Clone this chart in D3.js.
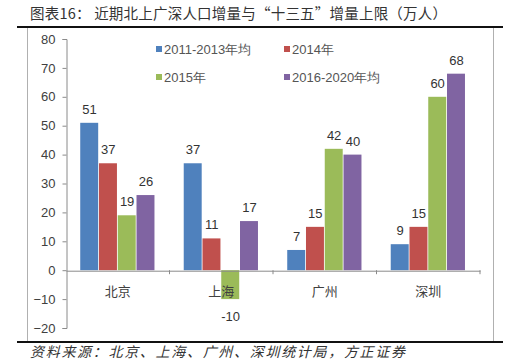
<!DOCTYPE html>
<html><head><meta charset="utf-8">
<script src="https://cdn.jsdelivr.net/npm/d3@7"></script>
<style>body{margin:0;background:#fff}svg{display:block}</style>
</head><body>
<script>
const categories = ["北京","上海","广州","深圳"];
const seriesNames = ["2011-2013年均","2014年","2015年","2016-2020年均"];
const avg2011_2013 = [51,37,7,9];
const y2014 = [37,11,15,15];
const y2015 = [19,-10,42,60];
const avg2016_2020 = [26,17,40,68];
const yTicks = [-20,-10,0,10,20,30,40,50,60,70,80];
const colors = ["#4F81BD","#C0504D","#9BBB59","#8064A2"];
const seriesValues = [avg2011_2013,y2014,y2015,avg2016_2020];

const W=516,H=361;
const svg=d3.select("body").append("svg").attr("width",W).attr("height",H);

// outer frame
svg.append("rect").attr("x",27.5).attr("y",27.5).attr("width",466).attr("height",314)
  .attr("fill","none").attr("stroke","#b0b0b0").attr("stroke-width",1);
svg.append("line").attr("x1",17).attr("x2",503).attr("y1",27).attr("y2",27).attr("stroke","#111").attr("stroke-width",2.2);
svg.append("line").attr("x1",17).attr("x2",503).attr("y1",342).attr("y2",342).attr("stroke","#111").attr("stroke-width",2.2);

svg.append("text").attr("x",30).attr("y",19).attr("font-family","Noto Sans CJK SC").attr("font-size",14.5)
  .attr("fill","#333").attr("textLength",417).attr("lengthAdjust","spacing")
  .text("图表16：  近期北上广深人口增量与“十三五”增量上限（万人）");
svg.append("text").attr("x",30).attr("y",357).attr("font-family","Noto Sans CJK SC").attr("font-size",14)
  .attr("font-style","italic").attr("fill","#333").attr("textLength",375).attr("lengthAdjust","spacing")
  .text("资料来源：北京、上海、广州、深圳统计局，方正证券");

const y=d3.scaleLinear().domain([-20,80]).range([328,39]);
const x0=d3.scaleBand().domain(categories).range([66,480]).paddingInner(0.275).paddingOuter(0.1375);
const x1=d3.scaleBand().domain(seriesNames).range([0,x0.bandwidth()]);

// y axis
const yAxis=svg.append("g").attr("transform","translate(66.5,0)")
  .call(d3.axisLeft(y).tickValues(yTicks).tickSize(4).tickPadding(7));
yAxis.select(".domain").attr("stroke","#8a8a8a");
yAxis.selectAll(".tick line").attr("stroke","#8a8a8a");
yAxis.selectAll(".tick text").attr("font-family","Liberation Sans, Arial").attr("font-size",13).attr("fill","#404040");

// bars
const groups=svg.append("g").selectAll("g").data(categories).join("g")
  .attr("transform",d=>`translate(${x0(d)},0)`);
groups.selectAll("rect").data((c,i)=>seriesNames.map((s,j)=>({s,j,v:seriesValues[j][i]})))
  .join("rect")
  .attr("x",d=>x1(d.s)).attr("width",x1.bandwidth()-0.8)
  .attr("y",d=>y(Math.max(0,d.v))).attr("height",d=>Math.abs(y(d.v)-y(0)))
  .attr("fill",d=>colors[d.j]);
groups.selectAll("text").data((c,i)=>seriesNames.map((s,j)=>({s,j,v:seriesValues[j][i]})))
  .join("text")
  .attr("x",d=>x1(d.s)+x1.bandwidth()/2)
  .attr("y",d=>d.v>=0?y(d.v)-9:y(d.v)+22)
  .attr("text-anchor","middle").attr("font-family","Liberation Sans, Arial").attr("font-size",13)
  .attr("fill","#333").text(d=>d.v);

// x axis at zero
const xAxis=svg.append("g").attr("transform",`translate(0,${y(0)+0.5})`)
  .call(d3.axisBottom(x0).tickSize(0).tickPadding(16));
xAxis.select(".domain").attr("stroke","#8a8a8a");
xAxis.selectAll(".tick text").attr("font-family","Noto Sans CJK SC").attr("font-size",13).attr("fill","#404040");
// category boundary ticks
const bounds=[...categories.map(c=>x0(c)-x0.step()*x0.paddingOuter()), 480];
svg.append("g").selectAll("line").data(bounds.slice(1)).join("line")
  .attr("x1",d=>d).attr("x2",d=>d).attr("y1",y(0)).attr("y2",y(0)+4).attr("stroke","#8a8a8a");

// legend
const legPos=[[156,49],[284,49],[156,77],[284,77]];
const leg=svg.append("g").selectAll("g").data(seriesNames).join("g")
  .attr("transform",(d,i)=>`translate(${legPos[i][0]},${legPos[i][1]})`);
leg.append("rect").attr("x",0).attr("y",-3).attr("width",6).attr("height",6).attr("fill",(d,i)=>colors[i]);
leg.append("text").attr("x",8).attr("y",4.5).attr("font-family","Liberation Sans, Arial").attr("font-size",13)
  .attr("fill","#555").text(d=>d);
</script>
</body></html>
